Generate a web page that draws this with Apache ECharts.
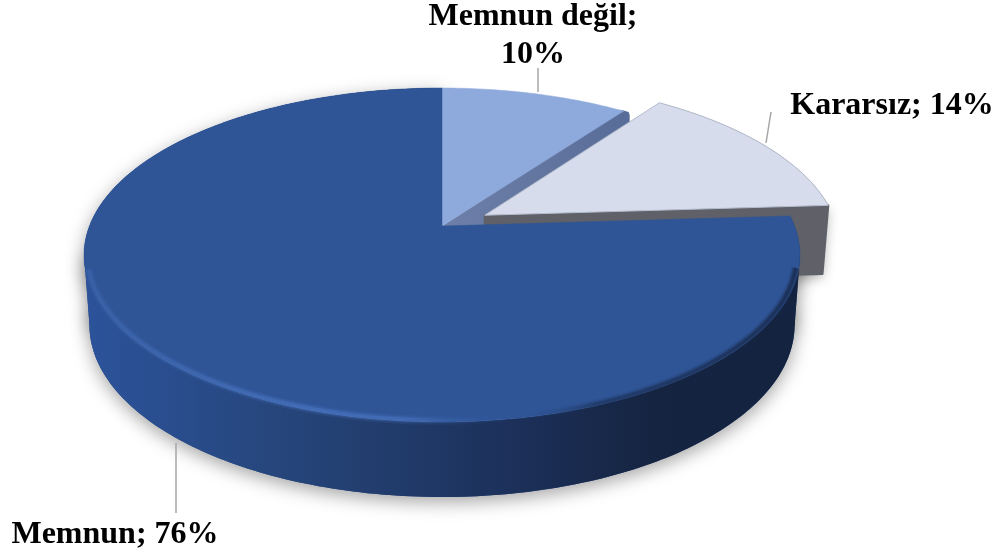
<!DOCTYPE html>
<html><head><meta charset="utf-8">
<style>html,body{margin:0;padding:0;background:#fff}#c{width:1004px;height:560px}</style>
<script src="https://cdn.jsdelivr.net/npm/echarts@6/dist/echarts.min.js"></script>
</head><body><div id="c"></div>
<script>
const categories = ['Memnun değil', 'Kararsız', 'Memnun'];
const values = [10, 14, 76];
const topColors = ['#8ea9db', '#d6dcec', '#2f5597'];
const explode = [0, 0.14, 0];
const labelBreak = [true, false, false];
const labelAnchors = [[533, 36], [892, 106], [115, 535]];
const leaders = [[[538, 68], [538, 92]], [[771, 112], [766, 143]], [[176, 443], [176, 513]]];

// Projection of the unit disc onto the page
const CX = 442, CY = 226, D = 352.5, A = -122.7, C = 0.1737;
function project(u, v) {
  const w = 1 + C * v;
  return [CX + D * u / w, (CY + A * v) / w];
}
function lower(p) {
  return [CX + (p[0] - CX) * 0.985, 325 + (p[1] - 255) * 1.03];
}
function inset(p, f) {
  return [CX + (p[0] - CX) * f, 255 + (p[1] - 255) * f];
}
const total = values.reduce((a, b) => a + b, 0);
const G = echarts.graphic.LinearGradient;

function renderItem(params, api) {
  const i = params.dataIndex;
  let before = 0;
  for (let k = 0; k < i; k++) before += values[k];
  const val = api.value(0);
  const t0 = before / total * 2 * Math.PI;
  const t1 = (before + val) / total * 2 * Math.PI;
  const mid = (t0 + t1) / 2;
  const ou = explode[i] * Math.sin(mid), ov = explode[i] * Math.cos(mid);
  const arc = [];
  const n = Math.ceil((t1 - t0) / (Math.PI / 180));
  for (let k = 0; k <= n; k++) {
    const t = t0 + (t1 - t0) * k / n;
    arc.push(project(ou + Math.sin(t), ov + Math.cos(t)));
  }
  const apex = project(ou, ov);
  const children = [];
  const bottomArc = arc.map(lower).reverse();

  if (i === 0) {
    const a = arc[arc.length - 1];
    children.push({
      type: 'polygon', z2: 2,
      shape: { points: [apex, [a[0] - 2, a[1] - 1], [a[0] + 5, a[1] + 1], [a[0] + 6, a[1] + 4], [a[0] + 6, a[1] + 18], [apex[0] + 45, apex[1]], [apex[0] + 45, apex[1] + 2]] },
      style: { fill: new G(440, 0, 630, 0, [{ offset: 0, color: '#6e80a8' }, { offset: 1, color: '#576c98' }], true) }
    });
  }
  if (i === 1) {
    const end = arc[arc.length - 1];
    children.push({
      type: 'polygon', z2: 0,
      shape: { points: [apex, end, lower(end), lower(apex)] },
      style: { fill: '#5f6068', shadowBlur: 12, shadowColor: 'rgba(0,0,0,0.3)', shadowOffsetY: 4 }
    });
    children.push({
      type: 'polygon', z2: 3,
      shape: { points: arc.concat(bottomArc) },
      style: { fill: '#5f6068' }
    });
    children.push({
      type: 'polygon', z2: 3,
      shape: { points: [apex, end, lower(end), lower(apex)] },
      style: { fill: '#5f6068', stroke: '#5f6068', lineWidth: 2, lineJoin: 'round' }
    });
  }
  children.push({
    type: 'polygon', z2: i === 2 ? 8 : 4 + i,
    shape: { points: [apex].concat(arc) },
    style: { fill: topColors[i], stroke: i === 1 ? '#b4bccd' : topColors[i], lineWidth: i === 1 ? 1 : 0.5 }
  });
  if (i === 2) {
    const wallFill = new G(85, 0, 798, 0, [
      { offset: 0, color: '#2c539b' },
      { offset: 0.3, color: '#254478' },
      { offset: 0.6, color: '#1c305a' },
      { offset: 0.8, color: '#152440' },
      { offset: 1, color: '#132340' }
    ], true);
    const xs = arc.map(p => p[0]);
    const L = arc[xs.indexOf(Math.min(...xs))];
    const R = arc[xs.indexOf(Math.max(...xs))];
    const body = [L, lower(L), lower(R), R];
    const band = arc.concat(bottomArc);
    children.push({
      type: 'polygon', z2: 0, shape: { points: band },
      style: { fill: '#2c4a80', shadowBlur: 18, shadowColor: 'rgba(0,0,0,0.36)', shadowOffsetY: 5 }
    });
    children.push({
      type: 'polygon', z2: 0, shape: { points: body },
      style: { fill: '#2c4a80', shadowBlur: 18, shadowColor: 'rgba(0,0,0,0.36)', shadowOffsetY: 5 }
    });
    children.push({ type: 'polygon', z2: 7, shape: { points: band }, style: { fill: wallFill } });
    children.push({ type: 'polygon', z2: 7, shape: { points: body }, style: { fill: wallFill } });

    const rim = arc.filter(p => p[1] > 268).map(p => inset(p, 0.991));
    const softStops = [
      { offset: 0, color: 'rgba(80,125,205,0.25)' },
      { offset: 0.3, color: 'rgba(80,125,205,0.6)' },
      { offset: 0.45, color: 'rgba(80,125,205,0.55)' },
      { offset: 0.6, color: 'rgba(47,85,151,0)' },
      { offset: 0.72, color: 'rgba(20,35,65,0.5)' },
      { offset: 1, color: 'rgba(20,35,65,0.8)' }
    ];
    [[9, 0.22], [6, 0.35], [3.5, 0.6]].forEach(function (s) {
      children.push({
        type: 'polyline', z2: 9, shape: { points: rim },
        style: { fill: null, lineWidth: s[0], opacity: s[1], stroke: new G(85, 0, 798, 0, softStops, true) }
      });
    });
  }
  // leader and label
  children.push({
    type: 'line', z2: 10,
    shape: { x1: leaders[i][0][0], y1: leaders[i][0][1], x2: leaders[i][1][0], y2: leaders[i][1][1] },
    style: { stroke: '#a6a6a6', lineWidth: 1.5 }
  });
  children.push({
    type: 'text', z2: 11,
    x: labelAnchors[i][0], y: labelAnchors[i][1],
    style: {
      text: categories[i] + ';' + (labelBreak[i] ? '\n' : ' ') + val + '%',
      font: 'bold 32px "Liberation Serif"',
      fill: '#000', align: 'center', verticalAlign: 'middle', lineHeight: 38
    }
  });
  return { type: 'group', children };
}

const chart = echarts.init(document.getElementById('c'), null, { renderer: 'canvas' });
chart.setOption({
  backgroundColor: '#fff',
  animation: false,
  series: [{
    type: 'custom',
    coordinateSystem: 'none',
    renderItem,
    silent: true,
    data: categories.map((name, i) => ({ name, value: [values[i]] }))
  }]
});
</script></body></html>
